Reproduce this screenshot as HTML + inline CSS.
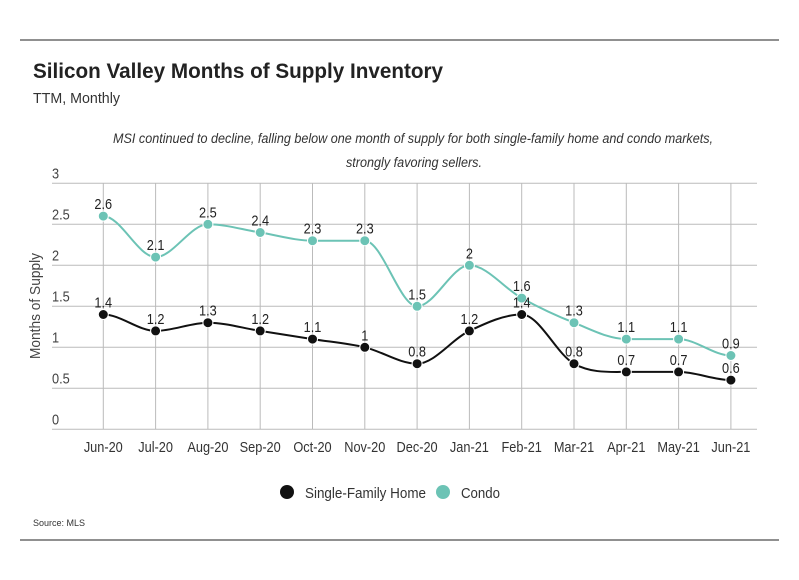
<!DOCTYPE html>
<html><head><meta charset="utf-8"><style>
body{margin:0;background:#fff;}
svg text{font-family:"Liberation Sans Narrow","Liberation Sans",sans-serif;}
</style></head><body>
<svg id="chart" width="799" height="575" viewBox="0 0 799 575">
<line x1="20" y1="40" x2="779" y2="40" stroke="#222" stroke-width="1"/>
<text x="33" y="78" font-size="21" font-weight="bold" fill="#222" textLength="410" lengthAdjust="spacingAndGlyphs">Silicon Valley Months of Supply Inventory</text>
<text x="33" y="103" font-size="15" fill="#333" textLength="87" lengthAdjust="spacingAndGlyphs">TTM, Monthly</text>
<text x="113" y="143" font-size="13.5" font-style="italic" fill="#333" textLength="600" lengthAdjust="spacingAndGlyphs">MSI continued to decline, falling below one month of supply for both single-family home and condo markets,</text>
<text x="346" y="167" font-size="13.5" font-style="italic" fill="#333" textLength="136" lengthAdjust="spacingAndGlyphs">strongly favoring sellers.</text>
<g id="grid"></g>
<g id="series"></g>
<text transform="translate(40,306) rotate(-90)" font-size="15" fill="#444" text-anchor="middle" textLength="106" lengthAdjust="spacingAndGlyphs">Months of Supply</text>
<g>
<circle cx="287" cy="492" r="7" fill="#111"/>
<text x="305" y="498" font-size="15" fill="#333" textLength="121" lengthAdjust="spacingAndGlyphs">Single-Family Home</text>
<circle cx="443" cy="492" r="7" fill="#6cc3b5"/>
<text x="461" y="498" font-size="15" fill="#333" textLength="39" lengthAdjust="spacingAndGlyphs">Condo</text>
</g>
<text x="33" y="526" font-size="9" fill="#333">Source:  MLS</text>
<line x1="20" y1="540" x2="779" y2="540" stroke="#222" stroke-width="1"/>
</svg>
<script>
const categories=["Jun-20","Jul-20","Aug-20","Sep-20","Oct-20","Nov-20","Dec-20","Jan-21","Feb-21","Mar-21","Apr-21","May-21","Jun-21"];
const sfhValues=[1.4,1.2,1.3,1.2,1.1,1,0.8,1.2,1.4,0.8,0.7,0.7,0.6];
const condoValues=[2.6,2.1,2.5,2.4,2.3,2.3,1.5,2,1.6,1.3,1.1,1.1,0.9];
const yTicks=[0,0.5,1,1.5,2,2.5,3];
const NS="http://www.w3.org/2000/svg";
const x0=103.3,dx=52.3,yBase=429.3,yPer=82;
const xS=i=>x0+i*dx, yS=v=>yBase-v*yPer;
function mk(t,a,p){const e=document.createElementNS(NS,t);for(const k in a)e.setAttribute(k,a[k]);p.appendChild(e);return e;}
const grid=document.getElementById('grid');
yTicks.forEach(v=>{
  const l=mk('line',{x1:52,x2:757,y1:yS(v),y2:yS(v),stroke:'#bbb','stroke-width':1},grid);
  
  
  const t=mk('text',{x:52,y:yS(v)-5,'font-size':15,fill:'#444',transform:`translate(52,0) scale(0.85,1) translate(-52,0)`},grid);t.textContent=v;
  
  
});
categories.forEach((c,i)=>{
  const l=mk('line',{x1:xS(i),x2:xS(i),y1:yS(3),y2:yS(0),stroke:'#bbb','stroke-width':1},grid);
  
  
  const t=mk('text',{x:xS(i),y:452,'font-size':15,fill:'#333','text-anchor':'middle',transform:`translate(${xS(i)},0) scale(0.85,1) translate(${-xS(i)},0)`},grid);t.textContent=c;
  
  
});
function pathFor(vals){
  const p=vals.map((v,i)=>[xS(i),yS(v)]);
  let d=`M${p[0][0]},${p[0][1]}`;
  const n=p.length;
  const m=p.map((q,i)=>{ if(i===0||i===n-1) return 0;
    const s0=(p[i][1]-p[i-1][1]),s1=(p[i+1][1]-p[i][1]);
    if(s0*s1<=0) return 0; return (s0+s1)/2/dx;});
  for(let i=0;i<n-1;i++){
    const c1=[p[i][0]+dx/3,p[i][1]+m[i]*dx/3],c2=[p[i+1][0]-dx/3,p[i+1][1]-m[i+1]*dx/3];
    d+=` C${c1[0]},${c1[1]} ${c2[0]},${c2[1]} ${p[i+1][0]},${p[i+1][1]}`;
  }
  return d;
}
const sg=document.getElementById('series');
[[condoValues,'#6cc3b5','condo'],[sfhValues,'#111','sfh']].forEach(([vals,col,nm])=>{
  const path=mk('path',{d:pathFor(vals),fill:'none',stroke:col,'stroke-width':2},sg);
  
  
  vals.forEach((v,i)=>{
    const c=mk('circle',{cx:xS(i),cy:yS(v),r:5,fill:col,stroke:'#fff','stroke-width':1},sg);
    
    
    const t=mk('text',{x:xS(i),y:yS(v)-7,'font-size':15,fill:'#222','text-anchor':'middle',transform:`translate(${xS(i)},0) scale(0.85,1) translate(${-xS(i)},0)`},sg);t.textContent=v;
    
    
  });
});
</script>
</body></html>
